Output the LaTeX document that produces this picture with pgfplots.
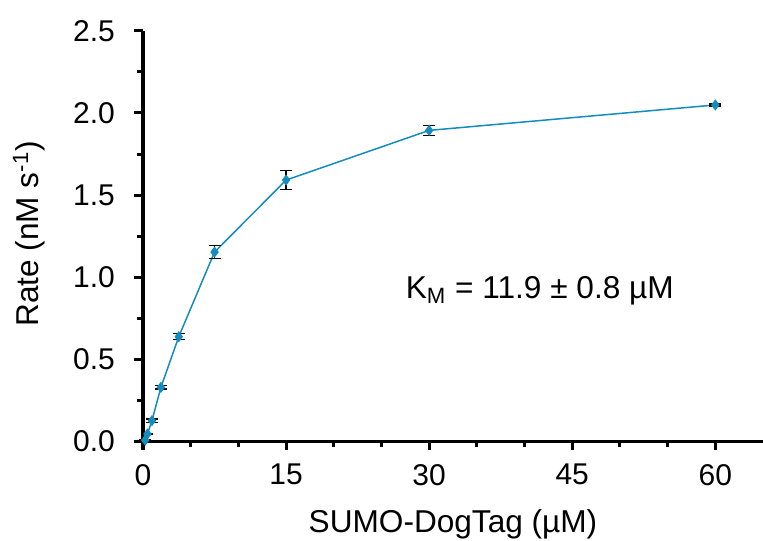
\documentclass[border=0pt]{standalone}
\usepackage{fontspec}
\setmainfont{Liberation Sans}
\usepackage{pgfplots}
\pgfplotsset{compat=1.18}
\definecolor{serie}{RGB}{20,140,190}
\begin{document}
\begin{tikzpicture}
\begin{axis}[
  scale only axis,
  width=310pt, height=205pt,
  xmin=0, xmax=65, ymin=0, ymax=2.5,
  axis x line*=bottom, axis y line*=left,
  axis line style={line width=1.5pt},
  every tick/.style={black, line width=1.5pt},
  tick align=outside,
  major tick length=4.5pt, minor tick length=2.8pt,
  xtick={0,15,30,45,60}, minor x tick num=2,
  ytick={0,0.5,1,1.5,2,2.5}, minor y tick num=1,
  /pgf/number format/assume math mode=true,
  ticklabel style={font=\fontsize{15}{17}\selectfont},
  xticklabel style={yshift=-3.5pt},
  yticklabel style={xshift=-6pt, /pgf/number format/fixed, /pgf/number format/zerofill, /pgf/number format/precision=1},
  xlabel={SUMO-DogTag (µM)},
  ylabel={Rate (nM s\textsuperscript{-1})},
  label style={font=\fontsize{15.8}{18}\selectfont},
  xlabel style={at={(axis description cs:0.5,0)}, anchor=base, yshift=-45.5pt},
  ylabel style={at={(axis description cs:-0.184,0.505)}, anchor=center},
  clip=false,
]
\addplot[color=serie, line width=0.75pt, mark=diamond*, mark size=2.2pt,
  mark options={fill=serie, draw=serie},
  error bars/.cd, y dir=both, y explicit,
  error bar style={black, line width=0.6pt},
  error mark options={black, mark size=3pt, line width=0.6pt, rotate=90}]
coordinates {
(0.234,0.005) +- (0,0.003)
(0.469,0.043) +- (0,0.005)
(0.938,0.124) +- (0,0.01)
(1.875,0.327) +- (0,0.01)
(3.75,0.636) +- (0,0.018)
(7.5,1.152) +- (0,0.04)
(15,1.591) +- (0,0.058)
(30,1.894) +- (0,0.03)
(60,2.049) +- (0,0.006)
};
\node[font=\fontsize{15.8}{18}\selectfont, anchor=base] at (axis cs:41.6,0.87) {K\textsubscript{M} = 11.9 ± 0.8 µM};
\end{axis}
\pgfresetboundingbox
\path[use as bounding box] (-71.5pt,-49.5pt) rectangle (310pt,220.5pt);
\end{tikzpicture}
\end{document}
